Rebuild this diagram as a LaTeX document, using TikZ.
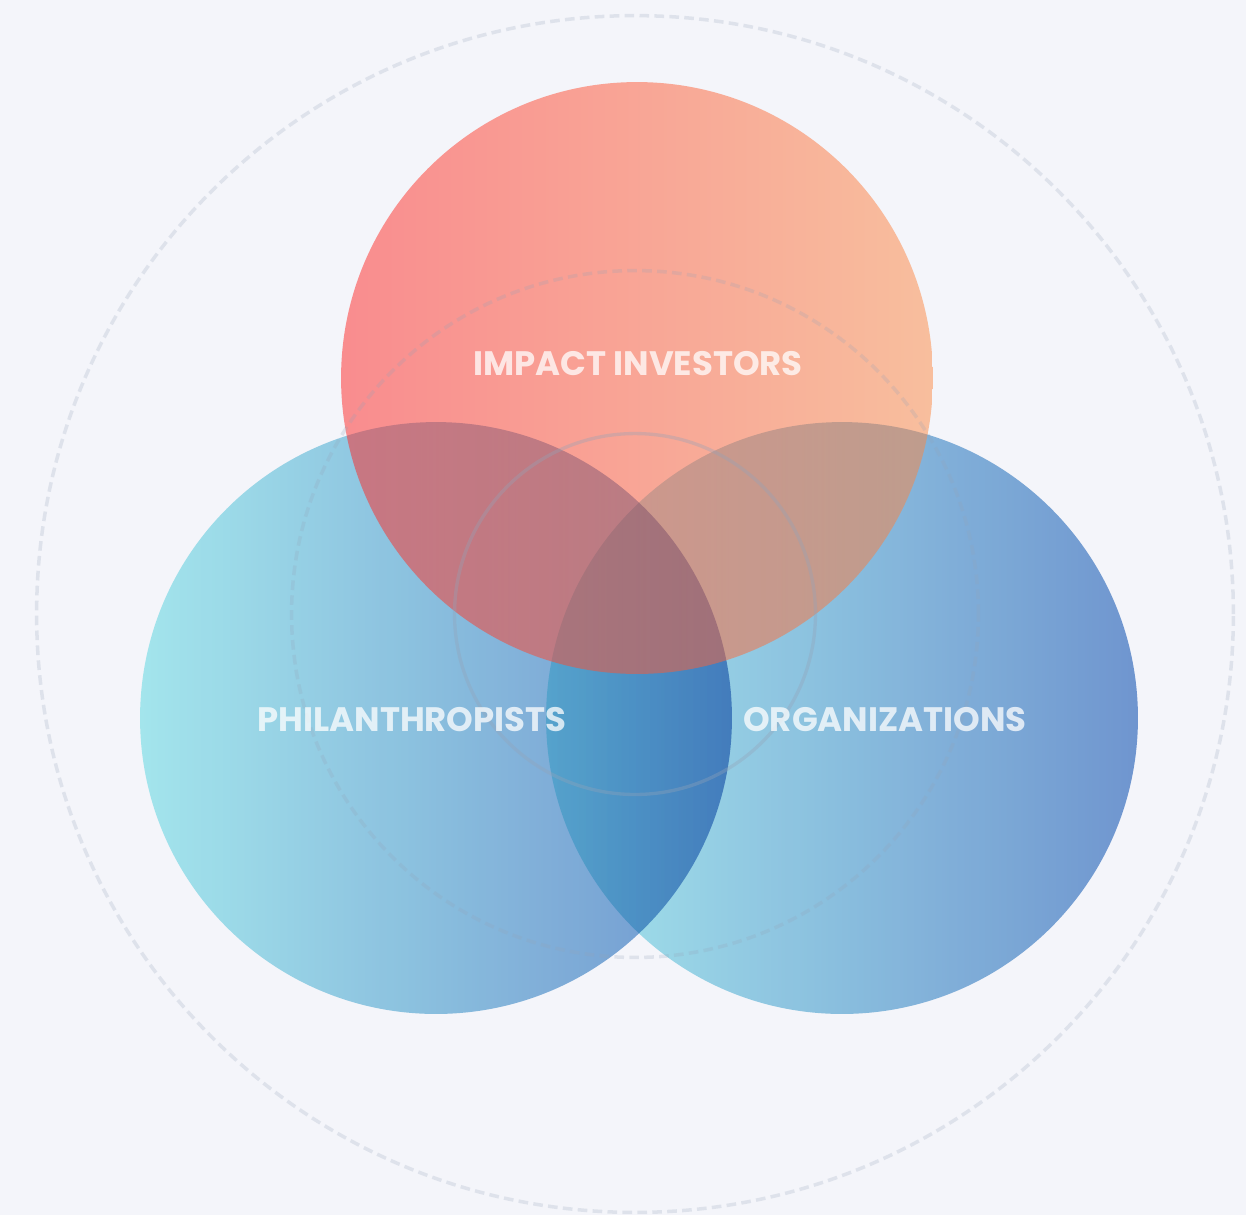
\documentclass[tikz,border=0pt]{standalone}
\usepackage{fontspec}
\newfontfamily\poppins{Poppins}
\usepackage{tikz}

\definecolor{fondo}{HTML}{F4F5FA}
\definecolor{rojo}{HTML}{FF2524}
\definecolor{naranja}{HTML}{FC8942}
\definecolor{cian}{HTML}{ABEFF1}
\definecolor{azul}{HTML}{759CD4}
\definecolor{pizarra}{HTML}{94A3B8}

\tikzset{
  etiqueta/.style={text=white, text opacity=0.75, font=\poppins\bfseries\fontsize{19.3}{22}\selectfont},
  anillo/.style={draw=pizarra, draw opacity=0.22, line width=2pt, dash pattern=on 5.5pt off 3pt},
}

\begin{document}
\begin{tikzpicture}[x=0.02cm, y=-0.02cm] % 1 unidad = 1 px

        % Fondo
        \fill[fondo] (0,0) rectangle (1246,1215);
        \useasboundingbox (0,0) rectangle (1246,1215);

        % Circulos azules (multiplicar)
        \begin{scope}[blend mode=multiply]
            \shade[left color=cian, right color=azul] (436,718) circle (5.92cm); % Filantropos
            \shade[left color=cian, right color=azul] (842,718) circle (5.92cm); % Organizaciones
        \end{scope}

        % Circulo superior
        \shade[left color=rojo, right color=naranja, fill opacity=0.5] (637,378) circle (5.92cm);

        % Anillos concentricos
        \draw[anillo] (635,614) circle (11.97cm);
        \draw[anillo] (635,614) circle (6.87cm);
        \draw[pizarra, draw opacity=0.35, line width=1.9pt] (635,614) circle (3.61cm);

        % Etiquetas
        \node[etiqueta] (inversores) at (638,364) {IMPACT INVESTORS};
        \node[etiqueta] (filantropos) at (412,720) {PHILANTHROPISTS};
        \node[etiqueta] (organizaciones) at (885,720) {ORGANIZATIONS};

    \end{tikzpicture}
\end{document}
